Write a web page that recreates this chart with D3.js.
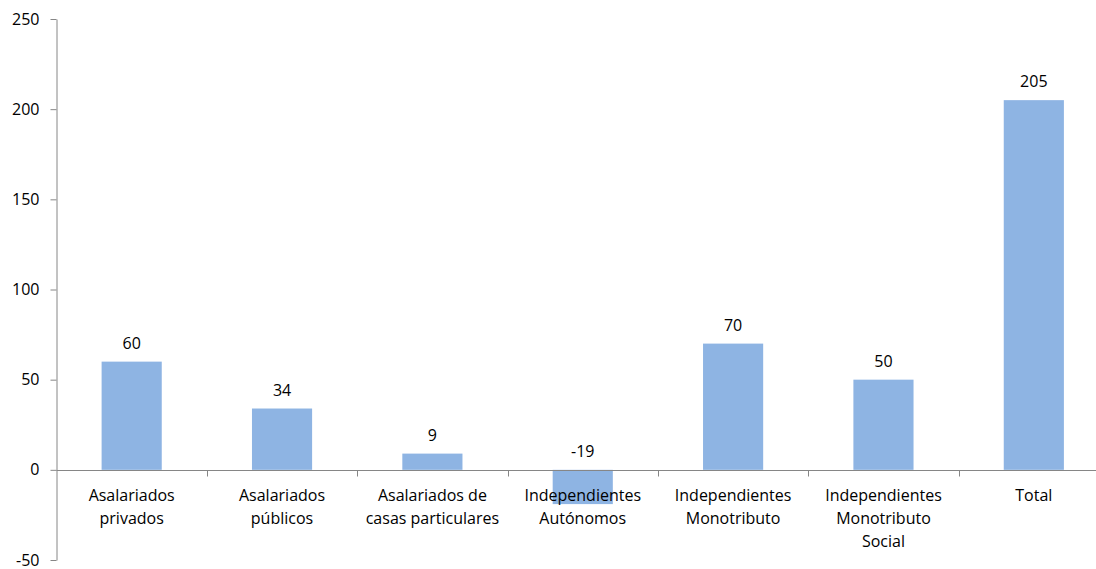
<!DOCTYPE html>
<html>
<head>
<meta charset="utf-8">
<script src="https://cdn.jsdelivr.net/npm/d3@7"></script>
<style>
  body { margin: 0; background: #fff; }
  text { font-family: "Open Sans", Lato, sans-serif; fill: #000; }
</style>
</head>
<body>
<svg id="chart"></svg>
<script>
// chart data
const categories = [
  ['Asalariados', 'privados'],
  ['Asalariados', 'públicos'],
  ['Asalariados de', 'casas particulares'],
  ['Independientes', 'Autónomos'],
  ['Independientes', 'Monotributo'],
  ['Independientes', 'Monotributo', 'Social'],
  ['Total']
];
const values = [60, 34, 9, -19, 70, 50, 205];
const yTicks = [-50, 0, 50, 100, 150, 200, 250];

const width = 1096, height = 569;
const axisX = 56.5;
const fontFam = '"Open Sans", Lato, sans-serif';

const svg = d3.select('#chart')
    .attr('width', width)
    .attr('height', height);

const data = values.map((v, i) => ({key: i, label: categories[i], value: v}));

// Scales
const yScale = d3.scaleLinear()
    .domain([-50, 250])
    .range([560, 19]);

const xScale = d3.scaleBand()
    .domain(data.map(d => d.key))
    .range([axisX, 1109])
    .paddingInner(0.6)
    .paddingOuter(0.3);

// Bars
svg.selectAll('.bar')
    .data(data)
    .join('rect')
    .attr('class', 'bar')
    .attr('x', d => xScale(d.key))
    .attr('width', xScale.bandwidth())
    .attr('y', d => yScale(Math.max(0, d.value)))
    .attr('height', d => Math.abs(yScale(d.value) - yScale(0)))
    .attr('fill', '#8EB4E3');

// Y axis
const yAxis = d3.axisLeft(yScale)
    .tickValues(yTicks)
    .tickFormat(d => String(d))
    .tickSize(6)
    .tickSizeOuter(0)
    .tickPadding(11);

const yAxisG = svg.append('g')
    .attr('transform', `translate(${axisX},0)`)
    .call(yAxis);
yAxisG.select('.domain').attr('stroke', '#868686');
yAxisG.selectAll('.tick line').attr('stroke', '#868686');
yAxisG.selectAll('.tick text')
    .style('font-size', '16px')
    .style('font-family', fontFam)
    .attr('fill', '#000');

// X axis along zero, with category separator ticks
const step = xScale.step();
const sepTicks = d3.range(1, values.length + 1).map(i => axisX + i * step);
const zeroY = Math.round(yScale(0)) + 0.5;

const xAxisG = svg.append('g');
xAxisG.append('line')
    .attr('x1', axisX).attr('x2', 1109)
    .attr('y1', zeroY).attr('y2', zeroY)
    .attr('stroke', '#868686');
xAxisG.selectAll('.sep')
    .data(sepTicks)
    .join('line')
    .attr('class', 'sep')
    .attr('x1', d => Math.round(d) + 0.5).attr('x2', d => Math.round(d) + 0.5)
    .attr('y1', zeroY).attr('y2', zeroY + 6)
    .attr('stroke', '#868686');

// Category labels
const catLabels = svg.selectAll('.cat')
    .data(data)
    .join('text')
    .attr('class', 'cat')
    .attr('text-anchor', 'middle')
    .style('font-size', '16px');
catLabels.selectAll('tspan')
    .data(d => d.label.map((t, j) => ({t, j, x: xScale(d.key) + xScale.bandwidth() / 2})))
    .join('tspan')
    .attr('x', d => d.x)
    .attr('y', d => 501 + d.j * 23)
    .text(d => d.t);

// Value labels
svg.selectAll('.val')
    .data(data)
    .join('text')
    .attr('class', 'val')
    .attr('text-anchor', 'middle')
    .attr('x', d => xScale(d.key) + xScale.bandwidth() / 2)
    .attr('y', d => yScale(Math.max(0, d.value)) - 13)
    .style('font-size', '16px')
    .text(d => d.value);
</script>
</body>
</html>
